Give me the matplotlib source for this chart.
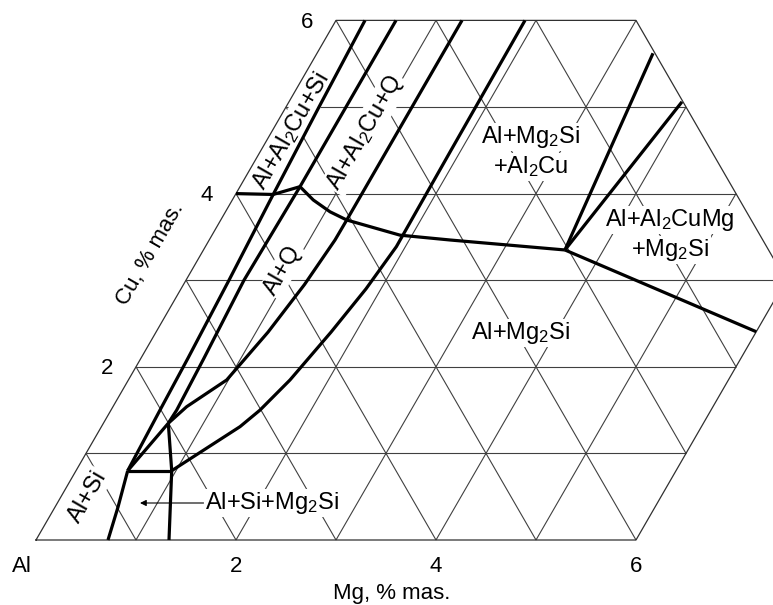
import numpy as np
import matplotlib
matplotlib.use("Agg")
import matplotlib.pyplot as plt

plt.rcParams['font.family'] = ['Liberation Sans', 'DejaVu Sans']
plt.rcParams['mathtext.default'] = 'regular'

SIN60 = np.sqrt(3) / 2


def tern(mg, cu):
    """Map (Mg, Cu) compositions to Cartesian plot coordinates (60-degree axes)."""
    mg = np.asarray(mg, float)
    cu = np.asarray(cu, float)
    return mg + 0.5 * cu, SIN60 * cu


# Section outline, % mas.
outline_mg = [0, 6, 6, 3, 0, 0]
outline_cu = [0, 0, 3, 6, 6, 0]

# Axis ticks
mg_ticks = [2, 4, 6]
cu_ticks = [2, 4, 6]

# Phase boundaries (Mg, Cu), % mas.
alsi_mg = [0.72, 0.63, 0.517]
alsi_cu = [0.00, 0.38, 0.80]

tie_mg = [0.517, 0.957]
tie_cu = [0.80, 0.80]

vert_mg = [1.33, 0.957, 0.649]
vert_cu = [0.00, 0.80, 1.348]

link_mg = [0.517, 0.649]
link_cu = [0.80, 1.348]

c1_mg = [0.517, 0.49, 0.47, 0.43, 0.377, 0.33, 0.29]
c1_cu = [0.80, 1.50, 2.10, 3.00, 3.99, 5.00, 6.00]

c2_mg = [0.649, 0.657, 0.63, 0.58, 0.60, 0.60, 0.60]
c2_cu = [1.348, 1.50, 2.10, 3.00, 4.08, 5.00, 6.00]

c3_mg = [0.649, 0.737, 0.983, 1.12, 1.21, 1.258, 1.26, 1.26]
c3_cu = [1.348, 1.539, 1.848, 2.40, 2.95, 3.464, 3.695, 6.00]

c4_mg = [0.957, 1.386, 1.49, 1.616, 1.75, 1.85, 1.91, 1.90, 1.89]
c4_cu = [0.80, 1.309, 1.50, 1.848, 2.40, 2.90, 3.387, 4.50, 6.00]

sol_mg = [0.0, 0.377, 0.60, 0.81, 1.045, 1.26, 1.88, 2.41, 3.615]
sol_cu = [4.0, 3.99, 4.08, 3.926, 3.79, 3.695, 3.52, 3.464, 3.349]

e1_mg = [3.615, 3.36]
e1_cu = [3.349, 5.62]
e2_mg = [3.615, 3.93]
e2_cu = [3.349, 5.06]
e3_mg = [3.615, 6.00]
e3_cu = [3.349, 2.405]

boundaries = [
    (alsi_mg, alsi_cu), (tie_mg, tie_cu), (vert_mg, vert_cu), (link_mg, link_cu),
    (c1_mg, c1_cu), (c2_mg, c2_cu), (c3_mg, c3_cu), (c4_mg, c4_cu),
    (sol_mg, sol_cu), (e1_mg, e1_cu), (e2_mg, e2_cu), (e3_mg, e3_cu),
]

W, H = 773, 605
fig = plt.figure(figsize=(W / 100, H / 100), dpi=100)
ax = fig.add_axes([0, 0, 1, 1])
ax.set_xlim(-0.36, (W - 36) / 100)
ax.set_ylim((540 - H) / 100, 5.40)
ax.set_aspect('equal')
ax.axis('off')

grid_kw = dict(color='#404040', lw=0.8, zorder=1, solid_capstyle='butt')

# Lines of constant Cu
for c in range(1, 6):
    x, y = tern([0, min(6, 9 - c)], [c, c])
    ax.plot(x, y, **grid_kw)
# Lines of constant Mg
for m in range(1, 6):
    x, y = tern([m, m], [0, min(6, 9 - m)])
    ax.plot(x, y, **grid_kw)
# Lines of constant Mg + Cu
for k in range(1, 9):
    lo = (k, 0) if k <= 6 else (6, k - 6)
    hi = (0, k) if k <= 6 else (k - 6, 6)
    x, y = tern([lo[0], hi[0]], [lo[1], hi[1]])
    ax.plot(x, y, **grid_kw)

x, y = tern(outline_mg, outline_cu)
ax.plot(x, y, color='#303030', lw=0.9, zorder=1)

for mg, cu in boundaries:
    x, y = tern(mg, cu)
    ax.plot(x, y, color='black', lw=2.3, zorder=5,
            solid_joinstyle='round', solid_capstyle='butt')

# Tick labels
tick_fs = 16
for m in mg_ticks:
    x, y = tern(m, 0)
    ax.text(x, y - 0.27, str(m), ha='center', va='center', fontsize=tick_fs)
for c in cu_ticks:
    x, y = tern(0, c)
    ax.text(x - 0.29, y - 0.02, str(c), ha='center', va='center', fontsize=tick_fs)
ax.text(-0.145, -0.27, 'Al', ha='center', va='center', fontsize=tick_fs)
ax.text(3.56, -0.53, 'Mg, % mas.', ha='center', va='center', fontsize=tick_fs)
ax.text(1.14, 2.86, 'Cu, % mas.', ha='center', va='center', fontsize=tick_fs,
        rotation=60, rotation_mode='anchor')

# Phase-field labels
lab_fs = 17
box = dict(facecolor='white', edgecolor='none', pad=1.0)
lab_kw = dict(ha='center', va='center', fontsize=lab_fs, zorder=3, bbox=box)

ax.text(2.55, 4.09, 'Al+Al$_2$Cu+Si', rotation=60, rotation_mode='anchor', **lab_kw)
ax.text(3.29, 4.07, 'Al+Al$_2$Cu+Q', rotation=60, rotation_mode='anchor', **lab_kw)
ax.text(2.47, 2.70, 'Al+Q', rotation=60, rotation_mode='anchor', **lab_kw)
ax.text(0.52, 0.43, 'Al+Si', rotation=60, rotation_mode='anchor', **lab_kw)
ax.text(4.85, 2.07, 'Al+Mg$_2$Si', **lab_kw)
ax.text(4.95, 4.03, 'Al+Mg$_2$Si', **lab_kw)
ax.text(4.95, 3.73, '+Al$_2$Cu', **lab_kw)
ax.text(6.34, 3.20, 'Al+Al$_2$CuMg', **lab_kw)
ax.text(6.34, 2.90, '+Mg$_2$Si', **lab_kw)
ax.annotate('Al+Si+Mg$_2$Si', xy=(1.04, 0.37), xytext=(2.36, 0.37),
            arrowprops=dict(arrowstyle='-|>', lw=0.8, color='black',
                            mutation_scale=9, shrinkA=0, shrinkB=0),
            **lab_kw)

fig.savefig('out.png', dpi=100)
